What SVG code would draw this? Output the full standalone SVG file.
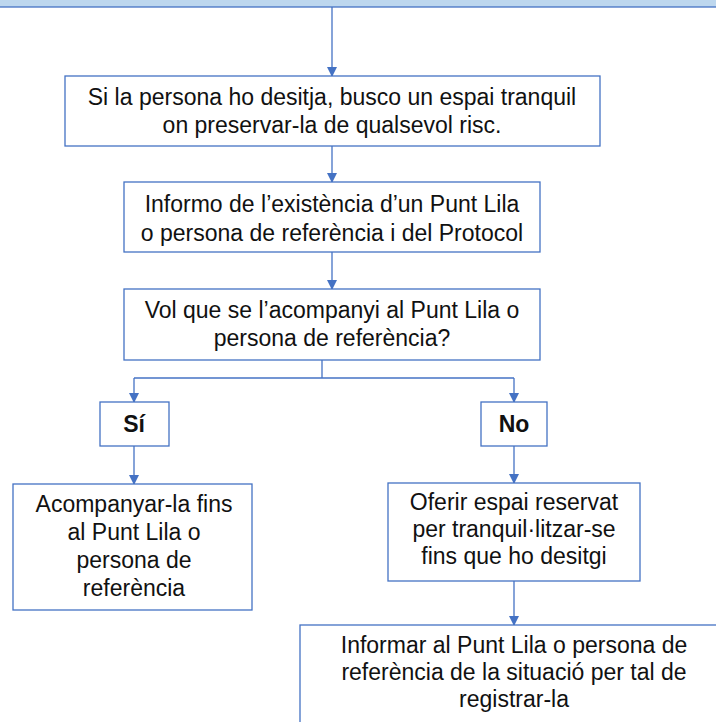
<svg xmlns="http://www.w3.org/2000/svg" width="716" height="722" viewBox="0 0 716 722">
<defs>
<marker id="ah" markerWidth="10" markerHeight="10" refX="9" refY="5" orient="auto" markerUnits="userSpaceOnUse">
<path d="M0,0 L10,5 L0,10 z" fill="#4472c4"/>
</marker>
<style>
.box{fill:#fff;stroke:#4472c4;stroke-width:1.3}
.t{font-family:"Liberation Sans",Arial,sans-serif;font-size:23px;fill:#111;text-anchor:middle}
.b{font-weight:bold}
.c{fill:none;stroke:#4472c4;stroke-width:1.3}
</style>
</defs>
<rect x="-2" y="-2" width="720" height="9" fill="#bdd7ee" stroke="#4472c4" stroke-width="1.3"/>
<g id="connectors">
<path class="c" d="M332,7 V76" marker-end="url(#ah)"/>
<path class="c" d="M332,146 V182" marker-end="url(#ah)"/>
<path class="c" d="M332,252 V289" marker-end="url(#ah)"/>
<path class="c" d="M322,360 V378"/>
<path class="c" d="M134,378 H514"/>
<path class="c" d="M134,378 V402" marker-end="url(#ah)"/>
<path class="c" d="M514,378 V402" marker-end="url(#ah)"/>
<path class="c" d="M134,446 V484" marker-end="url(#ah)"/>
<path class="c" d="M514,446 V483" marker-end="url(#ah)"/>
<path class="c" d="M514,581 V625" marker-end="url(#ah)"/>
</g>
<g id="n1">
<rect class="box" x="65" y="76" width="535" height="70"/>
<text class="t" x="332" y="105">Si la persona ho desitja, busco un espai tranquil</text>
<text class="t" x="332" y="133">on preservar-la de qualsevol risc.</text>
</g>
<g id="n2">
<rect class="box" x="124" y="182" width="416" height="70"/>
<text class="t" x="332" y="212">Informo de l’existència d’un Punt Lila</text>
<text class="t" x="332" y="241">o persona de referència i del Protocol</text>
</g>
<g id="n3">
<rect class="box" x="124" y="289" width="416" height="71"/>
<text class="t" x="332" y="318">Vol que se l’acompanyi al Punt Lila o</text>
<text class="t" x="332" y="346">persona de referència?</text>
</g>
<g id="si">
<rect class="box" x="100" y="402" width="69" height="44"/>
<text class="t b" x="134" y="432">Sí</text>
</g>
<g id="no">
<rect class="box" x="481" y="402" width="66" height="44"/>
<text class="t b" x="514" y="432">No</text>
</g>
<g id="n4">
<rect class="box" x="13" y="484" width="239" height="126"/>
<text class="t" x="134" y="512">Acompanyar-la fins</text>
<text class="t" x="134" y="540">al Punt Lila o</text>
<text class="t" x="134" y="568">persona de</text>
<text class="t" x="134" y="596">referència</text>
</g>
<g id="n5">
<rect class="box" x="388" y="483" width="252" height="98"/>
<text class="t" x="514" y="510">Oferir espai reservat</text>
<text class="t" x="514" y="537">per tranquil·litzar-se</text>
<text class="t" x="514" y="564">fins que ho desitgi</text>
</g>
<g id="n6">
<rect class="box" x="300" y="625" width="430" height="110"/>
<text class="t" x="514" y="653">Informar al Punt Lila o persona de</text>
<text class="t" x="514" y="680">referència de la situació per tal de</text>
<text class="t" x="514" y="707">registrar-la</text>
</g>
</svg>
